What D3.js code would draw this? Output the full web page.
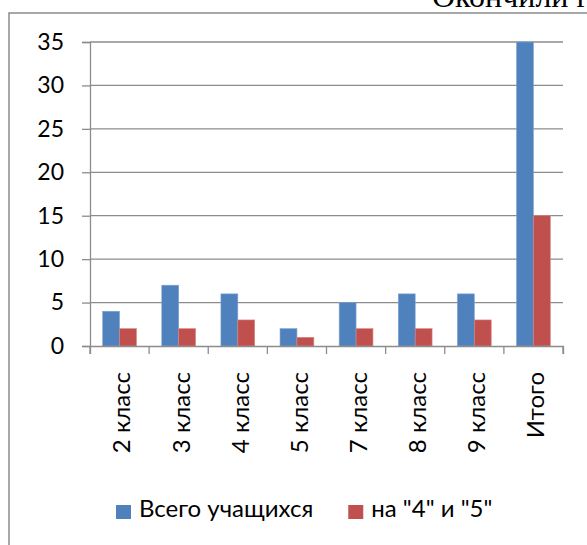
<!DOCTYPE html>
<meta charset="utf-8"/>
<html>
  <head>
    <script src="https://d3js.org/d3.v7.min.js"></script>
    <style>
      body { margin: 0; background: #fff; }
      text { font-family: Lato, 'Open Sans', sans-serif; fill: #000; }
    </style>
  </head>
  <body>
<script type="text/javascript">
var categories = ['2 класс', '3 класс', '4 класс', '5 класс', '7 класс', '8 класс', '9 класс', 'Итого'];
var seriesNames = ['Всего учащихся', 'на "4" и "5"'];
var totalPupils = [4, 7, 6, 2, 5, 6, 6, 35];
var goodPupils = [2, 2, 3, 1, 2, 2, 3, 15];
var yTicks = [0, 5, 10, 15, 20, 25, 30, 35];
var colors = ['#4F81BD', '#C0504D'];
var edgeColors = ['#7FA3D3', '#D98583'];

var width = 587, height = 545;
var plot = {left: 90, right: 563, top: 42, bottom: 346};
var fontSize = 23;
var labelSize = 24;
var gridColor = '#8c8c8c';

var svg = d3.select('body').append('svg')
    .attr('width', width)
    .attr('height', height);

// frame around the chart (runs off the page to the right and bottom)
svg.append('path')
    .attr('d', 'M9,' + (height + 5) + 'V13H' + (width + 5))
    .attr('fill', 'none')
    .attr('stroke', gridColor)
    .attr('stroke-width', 1.5);

// heading text cut off at the top of the page
svg.append('text')
    .attr('x', 432)
    .attr('y', 7)
    .style('font-family', "'Liberation Serif', 'DejaVu Serif', serif")
    .style('font-size', '32px')
    .text('Окончили год');

var x = d3.scaleBand()
    .domain(categories)
    .range([plot.left, plot.right])
    .paddingInner(0)
    .paddingOuter(0);
var inner = d3.scaleBand()
    .domain([0, 1])
    .range([x.bandwidth() * 0.2143, x.bandwidth() * 0.7857]);
var y = d3.scaleLinear()
    .domain([0, 35])
    .range([plot.bottom, plot.top]);

// gridlines
svg.append('g')
    .selectAll('line')
    .data(yTicks.slice(1))
    .enter()
    .append('line')
    .attr('x1', plot.left)
    .attr('x2', plot.right)
    .attr('y1', function(d) { return y(d); })
    .attr('y2', function(d) { return y(d); })
    .attr('stroke', gridColor)
    .attr('stroke-width', 1.3);

// bars
var rows = categories.map(function(c, i) { return {cat: c, vals: [totalPupils[i], goodPupils[i]]}; });
var groups = svg.append('g')
    .selectAll('g')
    .data(rows)
    .enter()
    .append('g')
    .attr('transform', function(d) { return 'translate(' + x(d.cat) + ',0)'; });
groups.selectAll('rect')
    .data(function(d) { return d.vals; })
    .enter()
    .append('rect')
    .attr('x', function(d, i) { return inner(i); })
    .attr('width', inner.bandwidth())
    .attr('y', function(d) { return y(d); })
    .attr('height', function(d) { return y(0) - y(d); })
    .attr('fill', function(d, i) { return colors[i]; })
    .attr('stroke', function(d, i) { return edgeColors[i]; })
    .attr('stroke-width', 0.6);

// y axis
var yAxis = svg.append('g')
    .attr('transform', 'translate(' + plot.left + ',0)')
    .call(d3.axisLeft(y).tickValues(yTicks).tickSize(8).tickPadding(18));
yAxis.select('.domain').attr('stroke', gridColor).attr('stroke-width', 1.3);
yAxis.selectAll('.tick line').attr('stroke', gridColor).attr('stroke-width', 1.3);
yAxis.selectAll('.tick text')
    .attr('fill', '#000')
    .style('font-family', 'Lato, sans-serif')
    .style('font-size', fontSize + 'px');

// x axis
var xAxis = svg.append('g')
    .attr('transform', 'translate(0,' + plot.bottom + ')')
    .call(d3.axisBottom(x).tickSizeInner(8).tickSizeOuter(8).tickFormat(''));
xAxis.select('.domain').attr('stroke', gridColor).attr('stroke-width', 1.3);
xAxis.selectAll('.tick line')
    .attr('x1', -x.bandwidth() / 2)
    .attr('x2', -x.bandwidth() / 2)
    .attr('stroke', gridColor)
    .attr('stroke-width', 1.3);
xAxis.append('line')
    .attr('x1', plot.right).attr('x2', plot.right)
    .attr('y1', 0).attr('y2', 8)
    .attr('stroke', gridColor)
    .attr('stroke-width', 1.3);

svg.append('g')
    .selectAll('text')
    .data(categories)
    .enter()
    .append('text')
    .attr('transform', function(d) { return 'translate(' + (x(d) + x.bandwidth() / 2) + ',372) rotate(-90)'; })
    .attr('text-anchor', 'end')
    .attr('dy', '0.45em')
    .style('font-size', labelSize + 'px')
    .text(function(d) { return d; });

// legend
var legend = svg.append('g');
var lx = 116;
seriesNames.forEach(function(name, i) {
  legend.append('rect')
      .attr('x', lx)
      .attr('y', 505)
      .attr('width', 15)
      .attr('height', 14)
      .attr('fill', colors[i]);
  var t = legend.append('text')
      .attr('x', lx + 23)
      .attr('y', 517)
      .style('font-size', labelSize + 'px')
      .text(name);
  lx += 23 + t.node().getComputedTextLength() + 35;
});
</script>
  </body>
</html>
